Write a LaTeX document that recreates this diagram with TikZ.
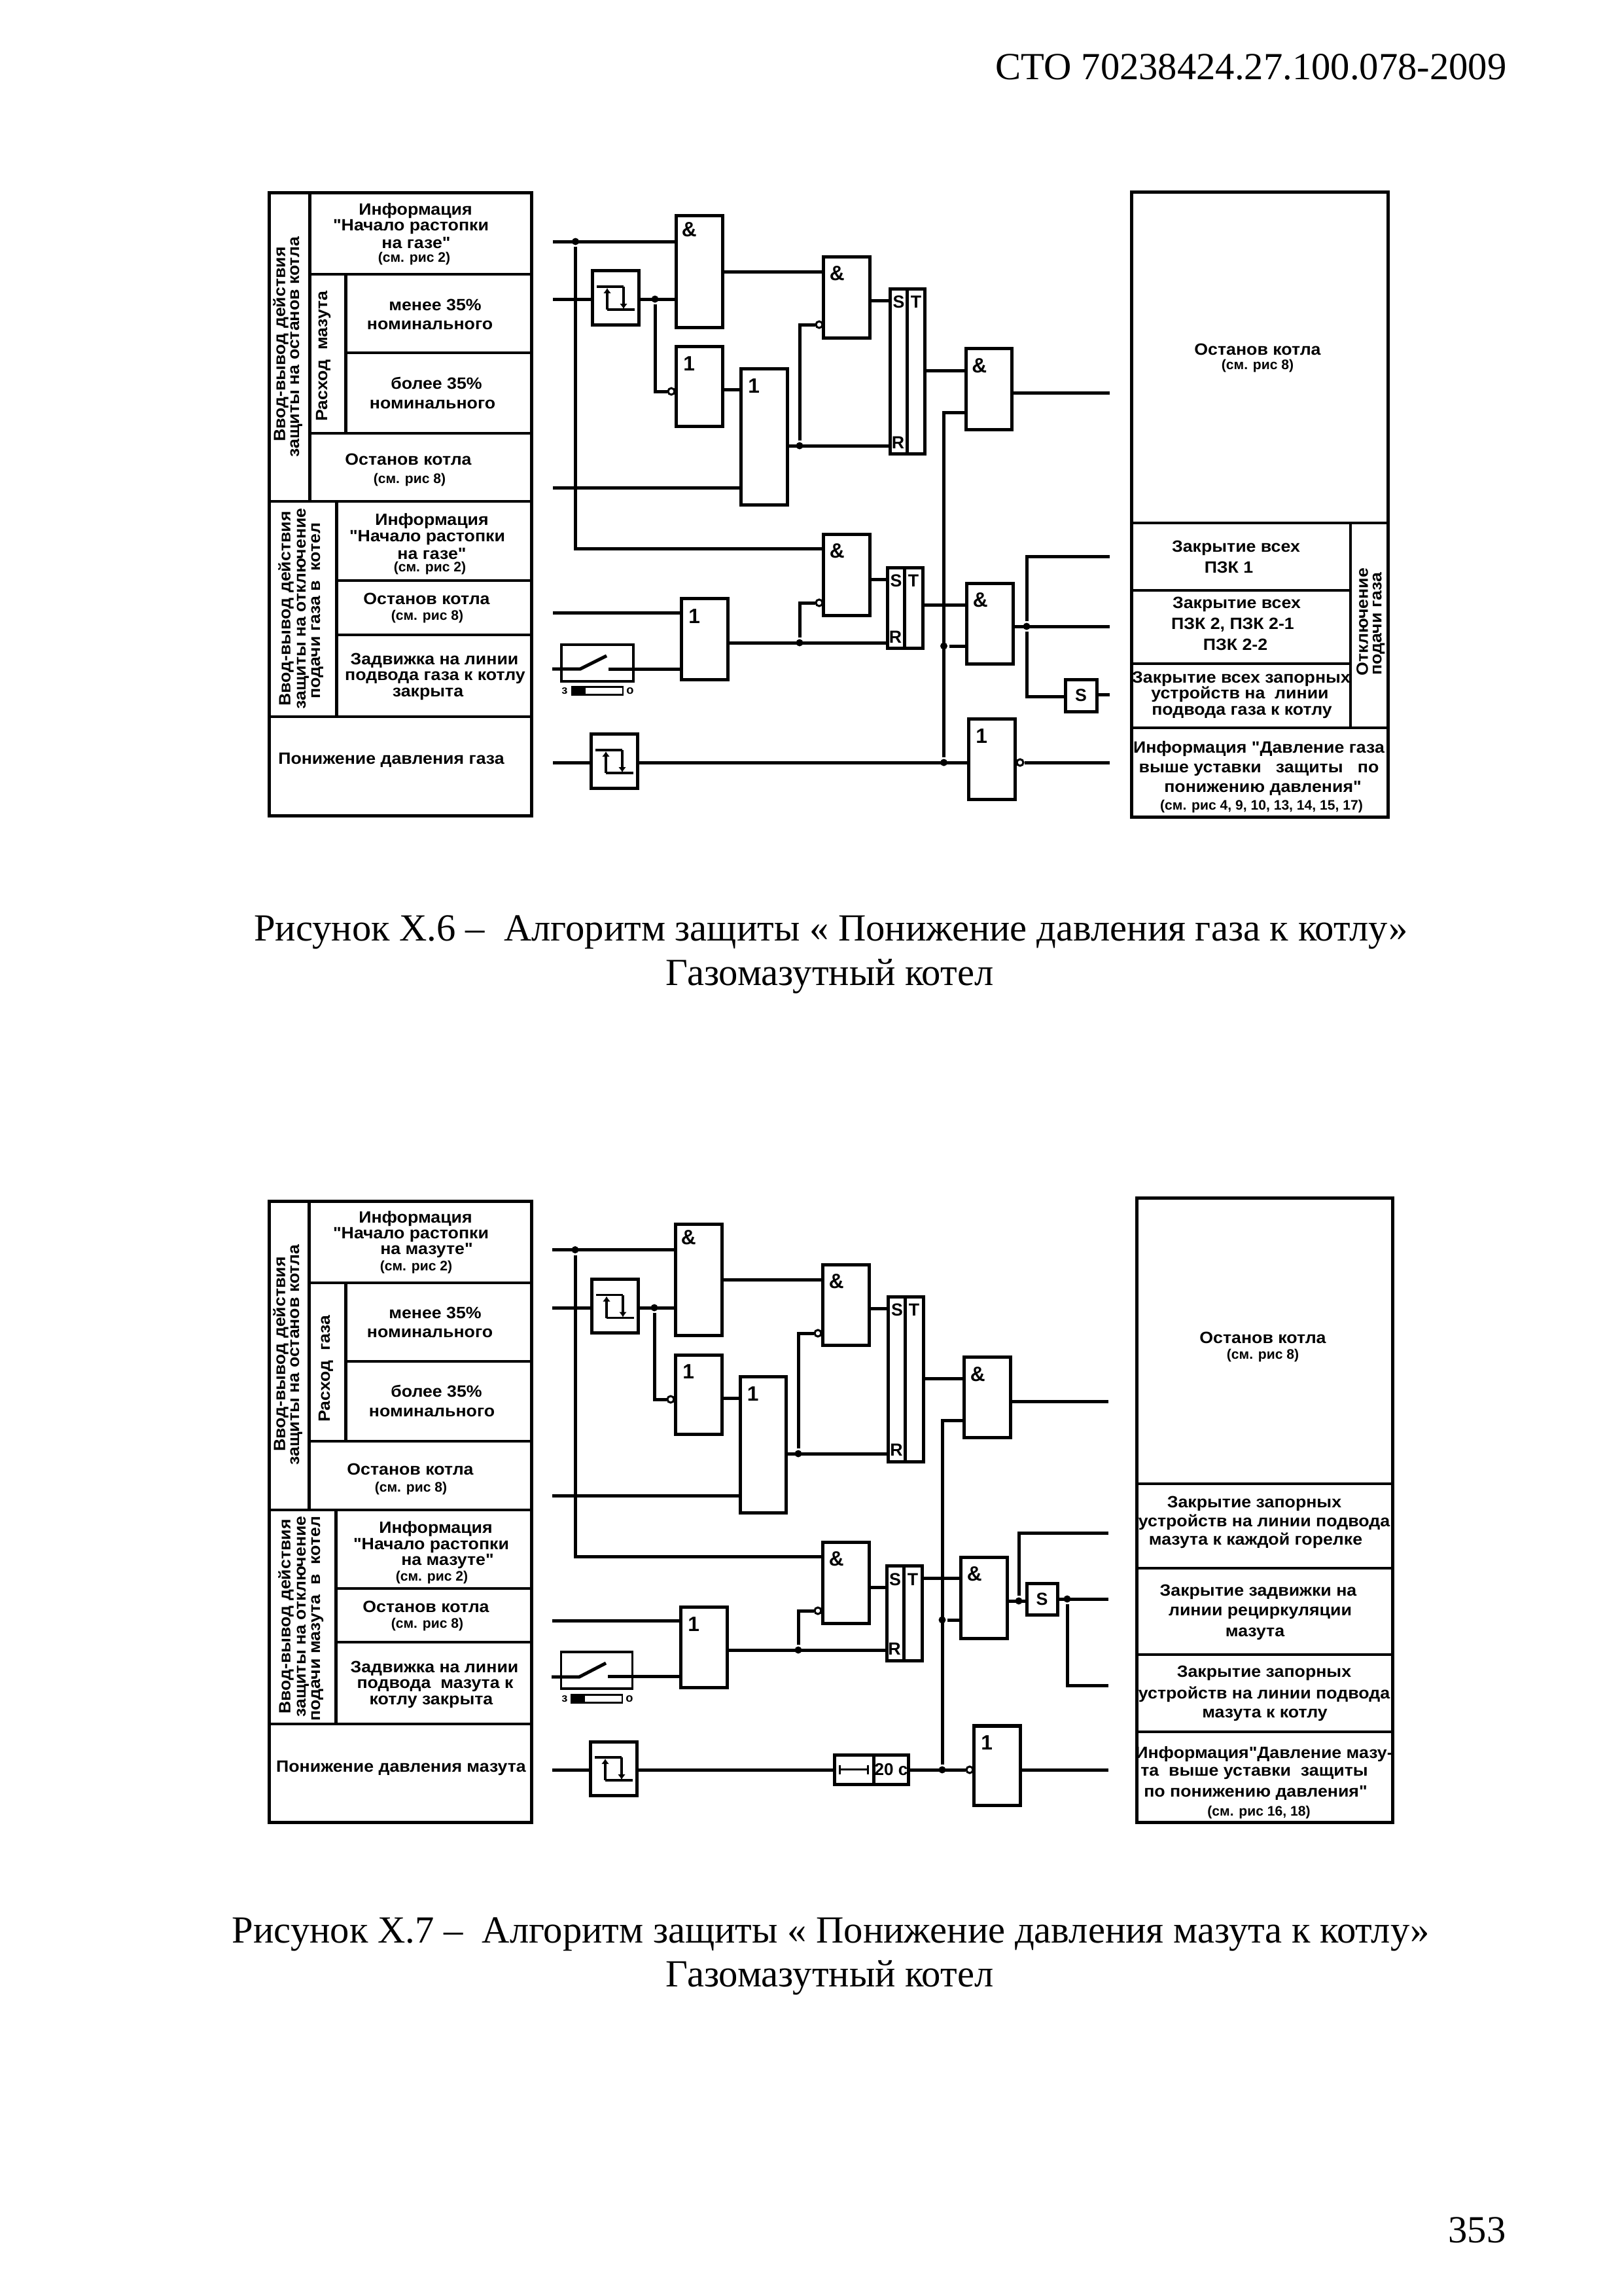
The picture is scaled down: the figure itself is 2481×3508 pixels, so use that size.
\documentclass[tikz,border=0pt]{standalone}
\usepackage{fontspec}
\setmainfont{Liberation Serif}
\newfontfamily\labelfont[FakeStretch=1.07]{Liberation Sans}
\newfontfamily\narrowfont{Liberation Sans}
\usetikzlibrary{shapes,arrows.meta}
\tikzstyle{block} = [draw, rectangle, inner sep=0pt, minimum width=0.705cm]
\tikzstyle{thinblock} = [block, line width=0.035cm]
\tikzstyle{dot} = [circle, fill=black, inner sep=0pt, minimum size=0.11cm]
\tikzstyle{neg} = [draw, circle, fill=white, inner sep=0pt, minimum size=0.1cm, line width=0.03cm]
\tikzstyle{gatemark} = [inner sep=0pt, font=\narrowfont\bfseries\fontsize{9}{10}\selectfont]
\tikzstyle{pinmark} = [inner sep=0pt, font=\narrowfont\bfseries\fontsize{7.6}{8}\selectfont]
\tikzstyle{tiny} = [inner sep=0pt, font=\narrowfont\bfseries\fontsize{5.2}{6}\selectfont]
\tikzstyle{frame} = [line width=0.035cm]
\tikzstyle{lab} = [inner sep=0pt, yshift=-0.5pt, font=\labelfont\bfseries\fontsize{7.1}{8}\selectfont]
\tikzstyle{ref} = [inner sep=0pt, yshift=-0.5pt, font=\narrowfont\bfseries\fontsize{6}{7}\selectfont]
\tikzstyle{vlab} = [inner sep=0pt, rotate=90, font=\labelfont\bfseries\fontsize{7.1}{8}\selectfont]
\tikzstyle{body} = [inner sep=0pt, font=\fontsize{16.67}{20}\selectfont]
\tikzstyle{tickline} = [line width=0.035cm, >={Latex[length=0.08cm,width=0.12cm]}]
\newcommand{\hysteresis}[1]{%
    \draw [tickline] ([shift={(-29,-17)}]#1.center) -- ([shift={(12,-17)}]#1.center);
    \draw [tickline] ([shift={(-13,18)}]#1.center) -- ([shift={(29,18)}]#1.center);
    \draw [tickline, ->] ([shift={(-13,18)}]#1.center) -- ([shift={(-13,-15)}]#1.center);
    \draw [tickline, ->] ([shift={(12,-17)}]#1.center) -- ([shift={(12,17)}]#1.center);
}
\begin{document}
\begin{tikzpicture}[x=0.01cm, y=-0.01cm, line width=0.05cm]
    \useasboundingbox (0,0) rectangle (2481,3508);
    % Page text
    \node [body, anchor=east] (head) at (2305,102) {СТО 70238424.27.100.078-2009};
    \node [body] (capA1) at (1270,1424) {Рисунок Х.6 –\ \ Алгоритм защиты « Понижение давления газа к котлу»};
    \node [body] (capA2) at (1268,1492) {Газомазутный котел};
    \node [body] (capB1) at (1270,2955) {Рисунок Х.7 –\ \ Алгоритм защиты « Понижение давления мазута к котлу»};
    \node [body] (capB2) at (1268,3022) {Газомазутный котел};
    \node [body, anchor=east] (page) at (2304,3407) {353};

    % Left table of the first figure
    \draw (411,294) rectangle (812,1246);
    \draw (473,294) -- (473,766);
    \draw (528,419) -- (528,662);
    \draw (514,766) -- (514,1095);
    \draw [frame] (473,419) -- (812,419);
    \draw [frame] (528,539) -- (812,539);
    \draw [frame] (473,662) -- (812,662);
    \draw [frame] (411,766) -- (812,766);
    \draw [frame] (514,887) -- (812,887);
    \draw [frame] (514,970) -- (812,970);
    \draw [frame] (411,1095) -- (812,1095);
    \node [vlab] (va1) at (429,526) {Ввод-вывод действия};
    \node [vlab] (va2) at (453,530) {защиты на останов котла};
    \node [vlab] (va3) at (494,544) {Расход\ \ мазута};
    \node [vlab] (va4) at (437,930) {Ввод-вывод действия};
    \node [vlab] (va5) at (463,930) {защиты на отключение};
    \node [vlab] (va6) at (485,933) {подачи газа в\ \ котел};
    \node [lab] (ta1) at (635,320) {Информация};
    \node [lab] (ta2) at (628,345) {"Начало растопки};
    \node [lab] (ta3) at (636,369) {на газе"};
    \node [ref] (ta4) at (633,393) {(см. рис 2)};
    \node [lab] (ta5) at (665,464) {менее 35\%};
    \node [lab] (ta6) at (657,495) {номинального};
    \node [lab] (ta7) at (667,584) {более 35\%};
    \node [lab] (ta8) at (661,616) {номинального};
    \node [lab] (ta9) at (624,700) {Останов котла};
    \node [ref] (ta10) at (626,731) {(см. рис 8)};
    \node [lab] (ta11) at (660,794) {Информация};
    \node [lab] (ta12) at (653,820) {"Начало растопки};
    \node [lab] (ta13) at (660,844) {на газе"};
    \node [ref] (ta14) at (657,866) {(см. рис 2)};
    \node [lab] (ta15) at (652,913) {Останов котла};
    \node [ref] (ta16) at (653,940) {(см. рис 8)};
    \node [lab] (ta17) at (664,1007) {Задвижка на линии};
    \node [lab] (ta18) at (665,1034) {подвода газа к котлу};
    \node [lab] (ta19) at (654,1059) {закрыта};
    \node [lab] (ta20) at (598,1160) {Понижение давления газа};

    % Right table of the first figure
    \draw (1729,293) rectangle (2121,1248);
    \draw [frame] (1729,799) -- (2121,799);
    \draw [frame] (1729,902) -- (2064,902);
    \draw [frame] (1729,1014) -- (2064,1014);
    \draw [frame] (1729,1112) -- (2121,1112);
    \draw [frame] (2064,799) -- (2064,1112);
    \node [lab] (ra1) at (1922,532) {Останов котла};
    \node [ref] (ra2) at (1922,557) {(см. рис 8)};
    \node [lab] (ra3) at (1889,836) {Закрытие всех};
    \node [lab] (ra4) at (1878,865) {ПЗК 1};
    \node [lab] (ra5) at (1890,922) {Закрытие всех};
    \node [lab] (ra6) at (1884,953) {ПЗК 2, ПЗК 2-1};
    \node [lab] (ra7) at (1888,983) {ПЗК 2-2};
    \node [lab] (ra8) at (1897,1036) {Закрытие всех запорных};
    \node [lab] (ra9) at (1895,1059) {устройств на\ \ линии};
    \node [lab] (ra10) at (1898,1087) {подвода газа к котлу};
    \node [vlab] (ra11) at (2082,950) {Отключение};
    \node [vlab] (ra12) at (2107,953) {подачи газа};
    \node [lab] (ra13) at (1924,1142) {Информация "Давление газа};
    \node [lab] (ra14) at (1924,1175) {выше уставки\ \ \ защиты\ \ \ по};
    \node [lab] (ra15) at (1930,1203) {понижению давления"};
    \node [ref] (ra16) at (1928,1230) {(см. рис 4, 9, 10, 13, 14, 15, 17)};

    % Define the nodes of the first figure
    \coordinate (in1) at (845,369);
    \coordinate (in2) at (845,457);
    \coordinate (in3) at (845,745);
    \coordinate (in4) at (845,936);
    \coordinate (in5) at (844,1022);
    \coordinate (in6) at (845,1165);
    \coordinate (out1) at (1696,600);
    \coordinate (out2) at (1696,850);
    \coordinate (out3) at (1696,957);
    \coordinate (out4) at (1696,1061);
    \coordinate (out5) at (1696,1165);
    \node [block, minimum height=0.82cm] (trig1) at (941,455) {};
    \node [block, minimum height=0.82cm] (trig2) at (939,1163) {};
    \node [block, minimum height=1.7cm] (and1) at (1069,415) {};
    \node [block, minimum height=1.21cm] (or1) at (1069,590.5) {};
    \node [block, minimum height=2.07cm] (or2) at (1168,667.5) {};
    \node [block, minimum height=1.23cm] (and2) at (1294,454.5) {};
    \node [block, minimum height=1.23cm] (and3) at (1511.5,594.5) {};
    \node [block, minimum height=1.23cm] (and4) at (1294,878.5) {};
    \node [block, minimum height=1.23cm] (or3) at (1077,976.5) {};
    \node [block, minimum height=1.22cm] (and5) at (1513,953) {};
    \node [block, minimum height=1.22cm] (or4) at (1516,1160) {};
    \node [block, minimum width=0.26cm, minimum height=2.51cm] (st1s) at (1373,567.5) {};
    \node [block, minimum width=0.27cm, minimum height=2.51cm] (st1t) at (1399.5,567.5) {};
    \node [block, minimum width=0.26cm, minimum height=1.225cm] (st2s) at (1369,929) {};
    \node [block, minimum width=0.28cm, minimum height=1.225cm] (st2t) at (1396,929) {};
    \node [block, minimum width=0.48cm, minimum height=0.49cm, font=\narrowfont\bfseries\fontsize{7.6}{8}\selectfont] (sbox) at (1652,1062.5) {S};
    \node [thinblock, minimum width=1.1cm, minimum height=0.56cm] (sw1) at (913,1013) {};
    \node [draw, rectangle, inner sep=0pt, line width=0.025cm, minimum width=0.78cm, minimum height=0.12cm] (scale1) at (913,1055.5) {};
    \node [rectangle, fill=black, inner sep=0pt, minimum width=0.21cm, minimum height=0.12cm] (fill1) at (884.5,1055.5) {};
    \node [tiny] (zc1) at (863,1056) {з};
    \node [tiny] (op1) at (963,1056) {о};
    \node [gatemark] (m1) at ([shift={(22,23)}]and1.north west) {\&};
    \node [gatemark] (m2) at ([shift={(22,28)}]or1.north west) {1};
    \node [gatemark] (m3) at ([shift={(22,28)}]or2.north west) {1};
    \node [gatemark] (m4) at ([shift={(23,27)}]and2.north west) {\&};
    \node [gatemark] (m5) at ([shift={(23,28)}]and3.north west) {\&};
    \node [gatemark] (m6) at ([shift={(23,27)}]and4.north west) {\&};
    \node [gatemark] (m7) at ([shift={(22,29)}]or3.north west) {1};
    \node [gatemark] (m8) at ([shift={(23,27)}]and5.north west) {\&};
    \node [gatemark] (m9) at ([shift={(22,28)}]or4.north west) {1};
    \node [pinmark] (s1) at (1373.5,461) {S};
    \node [pinmark] (t1) at (1400,461) {T};
    \node [pinmark] (r1) at (1372.5,676) {R};
    \node [pinmark] (s2) at (1369.5,887) {S};
    \node [pinmark] (t2) at (1396,887) {T};
    \node [pinmark] (r2) at (1368.5,973.5) {R};
    \node [dot] (bus1) at (879.5,369) {};
    \coordinate (bus1end) at (879.5,838);
    \node [dot] (d1) at (1001,457) {};
    \node [dot] (d2) at (1222,681) {};
    \node [dot] (d3) at (1222,982) {};
    \node [dot] (d4) at (1442.5,987) {};
    \node [dot] (d5) at (1442.5,1165) {};
    \node [dot] (d6) at (1569,957) {};
    \node [neg] (n1) at (1026,598) {};
    \node [neg] (n2) at (1252,496) {};
    \node [neg] (n3) at (1252,921) {};
    \node [neg] (n4) at (1559,1165) {};
    \coordinate (or1out) at (1104,595);
    \coordinate (st1in) at (1360,459);
    \coordinate (st2in) at (1356,885);
    \coordinate (and3in) at (1476,566.5);
    \coordinate (and3in2) at (1476,630);
    \coordinate (and5in) at (1477,924);
    \coordinate (sboxin) at (1628,1064);
    \coordinate (swa) at (887,1022);
    \coordinate (swb) at (927,1002);
    \coordinate (swc) at (930,1022);
    % Connect the nodes
    \draw (in1) -- (in1 -| and1.west);
    \draw (bus1) -- (bus1end) -- (bus1end -| and4.west);
    \draw (in2) -- (in2 -| trig1.west);
    \draw (in2 -| trig1.east) -- (in2 -| and1.west);
    \draw (d1) |- (n1.west);
    \draw (in3) -- (in3 -| or2.west);
    \draw (and1.east) -- (and1.east -| and2.west);
    \draw (or1out) -- (or1out -| or2.west);
    \draw (d2 -| or2.east) -- (d2 -| st1s.west);
    \draw (d2) |- (n2.west);
    \draw (st1in -| and2.east) -- (st1in);
    \draw (and3in -| st1t.east) -- (and3in);
    \draw (d5) |- (and3in2);
    \draw (out1 -| and3.east) -- (out1);
    \draw (in4) -- (in4 -| or3.west);
    \draw (in5) -- (swa) -- (swb);
    \draw (swc) -- (swc -| or3.west);
    \draw (d3 -| or3.east) -- (d3 -| st2s.west);
    \draw (d3) |- (n3.west);
    \draw (st2in -| and4.east) -- (st2in);
    \draw (and5in -| st2t.east) -- (and5in);
    \draw (d4) -- (d4 -| and5.west);
    \draw (out3 -| and5.east) -- (out3);
    \draw (out2) -| (d6);
    \draw (d6) |- (sboxin);
    \draw (out4 -| sbox.east) -- (out4);
    \draw (in6) -- (in6 -| trig2.west);
    \draw (in6 -| trig2.east) -- (in6 -| or4.west);
    \draw (n4.east) -- (out5);
    \hysteresis{trig1}
    \hysteresis{trig2}

    % Left table of the second figure
    \draw (411,1835) rectangle (812,2784);
    \draw (472,1835) -- (472,2307);
    \draw (528,1960) -- (528,2202);
    \draw (513,2307) -- (513,2634);
    \draw [frame] (472,1960) -- (812,1960);
    \draw [frame] (528,2080) -- (812,2080);
    \draw [frame] (472,2202) -- (812,2202);
    \draw [frame] (411,2307) -- (812,2307);
    \draw [frame] (513,2427) -- (812,2427);
    \draw [frame] (513,2509) -- (812,2509);
    \draw [frame] (411,2634) -- (812,2634);
    \node [vlab] (vb1) at (429,2069) {Ввод-вывод действия};
    \node [vlab] (vb2) at (453,2070) {защиты на останов котла};
    \node [vlab] (vb3) at (498,2091) {Расход\ \ газа};
    \node [vlab] (vb4) at (437,2470) {Ввод-вывод действия};
    \node [vlab] (vb5) at (463,2470) {защиты на отключение};
    \node [vlab] (vb6) at (485,2473) {подачи мазута\ \ в\ \ котел};
    \node [lab] (tb1) at (635,1860) {Информация};
    \node [lab] (tb2) at (628,1885) {"Начало растопки};
    \node [lab] (tb3) at (652,1909) {на мазуте"};
    \node [ref] (tb4) at (636,1934) {(см. рис 2)};
    \node [lab] (tb5) at (665,2004) {менее 35\%};
    \node [lab] (tb6) at (657,2035) {номинального};
    \node [lab] (tb7) at (667,2124) {более 35\%};
    \node [lab] (tb8) at (660,2156) {номинального};
    \node [lab] (tb9) at (627,2243) {Останов котла};
    \node [ref] (tb10) at (628,2272) {(см. рис 8)};
    \node [lab] (tb11) at (666,2334) {Информация};
    \node [lab] (tb12) at (659,2360) {"Начало растопки};
    \node [lab] (tb13) at (684,2384) {на мазуте"};
    \node [ref] (tb14) at (660,2408) {(см. рис 2)};
    \node [lab] (tb15) at (651,2453) {Останов котла};
    \node [ref] (tb16) at (653,2480) {(см. рис 8)};
    \node [lab] (tb17) at (664,2547) {Задвижка на линии};
    \node [lab] (tb18) at (665,2574) {подвода\ \ мазута к};
    \node [lab] (tb19) at (659,2599) {котлу закрыта};
    \node [lab] (tb20) at (613,2700) {Понижение давления мазута};

    % Right table of the second figure
    \draw (1737,1830) rectangle (2128,2784);
    \draw [frame] (1737,2267) -- (2128,2267);
    \draw [frame] (1737,2396) -- (2128,2396);
    \draw [frame] (1737,2528) -- (2128,2528);
    \draw [frame] (1737,2646) -- (2128,2646);
    \node [lab] (rb1) at (1930,2042) {Останов котла};
    \node [ref] (rb2) at (1930,2069) {(см. рис 8)};
    \node [lab] (rb3) at (1917,2296) {Закрытие запорных};
    \node [lab] (rb4) at (1932,2324) {устройств на линии подвода};
    \node [lab] (rb5) at (1919,2352) {мазута к каждой горелке};
    \node [lab] (rb6) at (1923,2431) {Закрытие задвижки на};
    \node [lab] (rb7) at (1926,2463) {линии рециркуляции};
    \node [lab] (rb8) at (1918,2495) {мазута};
    \node [lab] (rb9) at (1932,2555) {Закрытие запорных};
    \node [lab] (rb10) at (1932,2587) {устройств на линии подвода};
    \node [lab] (rb11) at (1933,2619) {мазута к котлу};
    \node [lab] (rb12) at (1932,2678) {Информация"Давление мазу-};
    \node [lab] (rb13) at (1917,2708) {та\ \ выше уставки\ \ защиты};
    \node [lab] (rb14) at (1919,2738) {по понижению давления"};
    \node [ref] (rb15) at (1924,2767) {(см. рис 16, 18)};

    % Define the nodes of the second figure
    \coordinate (inb1) at (844,1909.5);
    \coordinate (inb2) at (844,1998);
    \coordinate (inb3) at (844,2285);
    \coordinate (inb4) at (844,2476);
    \coordinate (inb5) at (843,2562);
    \coordinate (inb6) at (844,2704);
    \coordinate (outb1) at (1694,2141);
    \coordinate (outb2) at (1694,2342.5);
    \coordinate (outb3) at (1694,2443);
    \coordinate (outb4) at (1694,2575);
    \coordinate (outb5) at (1694,2704);
    \node [block, minimum height=0.82cm] (trigb1) at (940,1995.5) {};
    \node [block, minimum height=0.82cm] (trigb2) at (938,2702) {};
    \node [block, minimum height=1.7cm] (andb1) at (1068,1955.5) {};
    \node [block, minimum height=1.21cm] (orb1) at (1068,2130.7) {};
    \node [block, minimum height=2.07cm] (orb2) at (1166.5,2207.5) {};
    \node [block, minimum height=1.225cm] (andb2) at (1293,1994) {};
    \node [block, minimum height=1.225cm] (andb3) at (1509,2135) {};
    \node [block, minimum height=1.23cm] (andb4) at (1293,2418.5) {};
    \node [block, minimum height=1.22cm] (orb3) at (1076,2517) {};
    \node [block, minimum height=1.23cm] (andb5) at (1504,2441.5) {};
    \node [block, minimum height=1.21cm] (orb4) at (1524,2697.5) {};
    \node [block, minimum width=0.26cm, minimum height=2.51cm] (stb1s) at (1370.5,2107.5) {};
    \node [block, minimum width=0.28cm, minimum height=2.51cm] (stb1t) at (1397.5,2107.5) {};
    \node [block, minimum width=0.26cm, minimum height=1.44cm] (stb2s) at (1368,2465) {};
    \node [block, minimum width=0.28cm, minimum height=1.44cm] (stb2t) at (1395,2465) {};
    \node [block, minimum width=0.47cm, minimum height=0.48cm, font=\narrowfont\bfseries\fontsize{7.6}{8}\selectfont] (sboxb) at (1592.5,2443.7) {S};
    \node [block, minimum width=0.59cm, minimum height=0.45cm] (tmr1) at (1305.5,2703.5) {};
    \node [block, minimum width=0.535cm, minimum height=0.45cm, font=\narrowfont\bfseries\fontsize{7.4}{8}\selectfont] (tmr2) at (1362,2703.5) {20 с};
    \node [thinblock, minimum width=1.09cm, minimum height=0.56cm] (sw2) at (912,2552) {};
    \node [draw, rectangle, inner sep=0pt, line width=0.025cm, minimum width=0.78cm, minimum height=0.12cm] (scale2) at (912,2595.5) {};
    \node [rectangle, fill=black, inner sep=0pt, minimum width=0.21cm, minimum height=0.12cm] (fill2) at (883.5,2595.5) {};
    \node [tiny] (zc2) at (863,2596) {з};
    \node [tiny] (op2) at (962,2596) {о};
    \node [gatemark] (mb1) at ([shift={(22,23)}]andb1.north west) {\&};
    \node [gatemark] (mb2) at ([shift={(22,28)}]orb1.north west) {1};
    \node [gatemark] (mb3) at ([shift={(22,28)}]orb2.north west) {1};
    \node [gatemark] (mb4) at ([shift={(23,27)}]andb2.north west) {\&};
    \node [gatemark] (mb5) at ([shift={(23,28)}]andb3.north west) {\&};
    \node [gatemark] (mb6) at ([shift={(23,27)}]andb4.north west) {\&};
    \node [gatemark] (mb7) at ([shift={(22,28)}]orb3.north west) {1};
    \node [gatemark] (mb8) at ([shift={(23,27)}]andb5.north west) {\&};
    \node [gatemark] (mb9) at ([shift={(22,28)}]orb4.north west) {1};
    \node [pinmark] (sb1) at (1371,2001) {S};
    \node [pinmark] (tb21) at (1397,2001) {T};
    \node [pinmark] (rb16) at (1370,2215.5) {R};
    \node [pinmark] (sb2) at (1368,2413) {S};
    \node [pinmark] (tb22) at (1395,2413) {T};
    \node [pinmark] (rb17) at (1367,2519) {R};
    \node [dot] (busb1) at (879,1909.5) {};
    \coordinate (busb1end) at (879,2378);
    \node [dot] (db1) at (1000,1998) {};
    \node [dot] (db2) at (1220,2221) {};
    \node [dot] (db3) at (1220,2521) {};
    \node [dot] (db4) at (1440,2475) {};
    \node [dot] (db5) at (1440,2704) {};
    \node [dot] (db6) at (1557,2446) {};
    \node [dot] (db7) at (1631,2443) {};
    \node [neg] (nb1) at (1025,2138) {};
    \node [neg] (nb2) at (1250,2037) {};
    \node [neg] (nb3) at (1250,2461) {};
    \node [neg] (nb4) at (1482,2704) {};
    \coordinate (orb1out) at (1103,2136.5);
    \coordinate (stb1in) at (1357.5,1999);
    \coordinate (stb2in) at (1355,2425.5);
    \coordinate (andb3in) at (1474,2106.5);
    \coordinate (andb3in2) at (1474,2170);
    \coordinate (andb5in) at (1469,2411);
    \coordinate (swba) at (885.5,2562);
    \coordinate (swbb) at (926,2541);
    \coordinate (swbc) at (929,2561);
    % Connect the nodes
    \draw (inb1) -- (inb1 -| andb1.west);
    \draw (busb1) -- (busb1end) -- (busb1end -| andb4.west);
    \draw (inb2) -- (inb2 -| trigb1.west);
    \draw (inb2 -| trigb1.east) -- (inb2 -| andb1.west);
    \draw (db1) |- (nb1.west);
    \draw (inb3) -- (inb3 -| orb2.west);
    \draw (andb1.east) -- (andb1.east -| andb2.west);
    \draw (orb1out) -- (orb1out -| orb2.west);
    \draw (db2 -| orb2.east) -- (db2 -| stb1s.west);
    \draw (db2) |- (nb2.west);
    \draw (stb1in -| andb2.east) -- (stb1in);
    \draw (andb3in -| stb1t.east) -- (andb3in);
    \draw (db5) |- (andb3in2);
    \draw (outb1 -| andb3.east) -- (outb1);
    \draw (inb4) -- (inb4 -| orb3.west);
    \draw (inb5) -- (swba) -- (swbb);
    \draw (swbc) -- (swbc -| orb3.west);
    \draw (db3 -| orb3.east) -- (db3 -| stb2s.west);
    \draw (db3) |- (nb3.west);
    \draw (stb2in -| andb4.east) -- (stb2in);
    \draw (andb5in -| stb2t.east) -- (andb5in);
    \draw (db4) -- (db4 -| andb5.west);
    \draw (db6 -| andb5.east) -- (db6 -| sboxb.west);
    \draw (outb2) -| (db6);
    \draw (db7 -| sboxb.east) -- (outb3);
    \draw (db7) |- (outb4);
    \draw (inb6) -- (inb6 -| trigb2.west);
    \draw (inb6 -| trigb2.east) -- (inb6 -| tmr1.west);
    \draw (inb6 -| tmr2.east) -- (nb4.west);
    \draw (outb5 -| orb4.east) -- (outb5);
    \draw [tickline] ([shift={(-22,-7)}]tmr1.center) -- ([shift={(-22,7)}]tmr1.center);
    \draw [tickline] ([shift={(21,-7)}]tmr1.center) -- ([shift={(21,7)}]tmr1.center);
    \draw [tickline] ([shift={(-22,0)}]tmr1.center) -- ([shift={(21,0)}]tmr1.center);
    \hysteresis{trigb1}
    \hysteresis{trigb2}
\end{tikzpicture}
\end{document}
